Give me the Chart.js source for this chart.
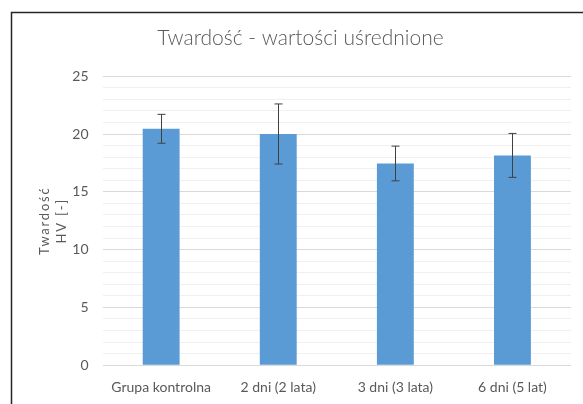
<!DOCTYPE html>
<html>
<head>
<meta charset="utf-8">
<script src="https://cdn.jsdelivr.net/npm/chart.js@4.4.0/dist/chart.umd.min.js"></script>
<style>
    html, body { margin: 0; padding: 0; background: #ffffff; }
    #wrap { width: 583px; height: 404px; position: relative; }
</style>
</head>
<body>
<div id="wrap"><canvas id="hardnessChart" width="583" height="404"></canvas></div>
<script>
// --- Dane ---
const categories = ['Grupa kontrolna', '2 dni (2 lata)', '3 dni (3 lata)', '6 dni (5 lat)'];
const hardnessMeans = [20.45, 20.0, 17.45, 18.15];
const hardnessErrors = [1.25, 2.6, 1.5, 1.9];
const yTickLabels = [0, 5, 10, 15, 20, 25];
const yAxisTitle = ['Twardość', 'HV [-]'];

const textColor = '#595959';

// Ramka wokół wykresu (lewa i górna krawędź widoczne na obrazku)
const frameBorder = {
    id: 'frameBorder',
    afterDraw(chart) {
        const ctx = chart.ctx;
        ctx.save();
        ctx.strokeStyle = '#262626';
        ctx.lineWidth = 1.5;
        ctx.beginPath();
        ctx.moveTo(11.5, 404);
        ctx.lineTo(11.5, 12.5);
        ctx.lineTo(583, 12.5);
        ctx.stroke();
        ctx.restore();
    }
};

// Tytuł osi Y z rozstrzelonymi literami (jak w Excelu)
const yTitle = {
    id: 'yTitle',
    afterDraw(chart) {
        const ctx = chart.ctx;
        const area = chart.chartArea;
        const cy = (area.top + area.bottom) / 2;
        ctx.save();
        ctx.fillStyle = textColor;
        ctx.font = '13px Lato';
        ctx.letterSpacing = '1.8px';
        ctx.textAlign = 'center';
        ctx.textBaseline = 'middle';
        ctx.translate(45, cy);
        ctx.rotate(-Math.PI / 2);
        yAxisTitle.forEach((line, i) => {
            ctx.fillText(line, 0, i * 17);
        });
        ctx.restore();
    }
};

// Słupki błędów rysowane przez skale wykresu
const errorBars = {
    id: 'errorBars',
    afterDatasetsDraw(chart) {
        const ctx = chart.ctx;
        const yScale = chart.scales.y;
        const meta = chart.getDatasetMeta(0);
        ctx.save();
        ctx.strokeStyle = '#404040';
        ctx.lineWidth = 1;
        meta.data.forEach((bar, i) => {
            const x = Math.round(bar.x) + 0.5;
            const top = yScale.getPixelForValue(hardnessMeans[i] + hardnessErrors[i]);
            const bottom = yScale.getPixelForValue(hardnessMeans[i] - hardnessErrors[i]);
            ctx.beginPath();
            ctx.moveTo(x, top);
            ctx.lineTo(x, bottom);
            ctx.moveTo(x - 4, top);
            ctx.lineTo(x + 4, top);
            ctx.moveTo(x - 4, bottom);
            ctx.lineTo(x + 4, bottom);
            ctx.stroke();
        });
        ctx.restore();
    }
};

const ctx = document.getElementById('hardnessChart').getContext('2d');
new Chart(ctx, {
    type: 'bar',
    data: {
        labels: categories,
        datasets: [{
            data: hardnessMeans,
            backgroundColor: '#5B9BD5',
            borderWidth: 0,
            categoryPercentage: 1,
            barPercentage: 0.315,
        }]
    },
    options: {
        responsive: false,
        animation: false,
        layout: { padding: { left: 30, right: 12, top: 0, bottom: 2 } },
        plugins: {
            legend: { display: false },
            tooltip: { enabled: false },
            title: {
                display: true,
                text: 'Twardość - wartości uśrednione',
                color: textColor,
                font: { family: 'Lato', size: 21, weight: '300' },
                padding: { top: 26, bottom: 25 }
            }
        },
        scales: {
            x: {
                grid: { display: false },
                border: { display: false },
                ticks: {
                    color: textColor,
                    font: { family: 'Lato', size: 14 },
                    padding: 6,
                    maxRotation: 0,
                    autoSkip: false
                }
            },
            y: {
                min: 0,
                max: 25,
                afterFit: (scale) => { scale.width = 72.6; },
                afterBuildTicks: (scale) => {
                    // co 1 jednostkę – linie pomocnicze, etykiety tylko dla wartości z yTickLabels
                    const ticks = [];
                    for (let v = 0; v <= 25; v++) ticks.push({ value: v });
                    scale.ticks = ticks;
                },
                border: { display: false },
                grid: {
                    drawTicks: false,
                    color: (c) => yTickLabels.includes(c.tick.value) ? '#d9d9d9' : '#f0f0f0',
                    lineWidth: 1
                },
                ticks: {
                    autoSkip: false,
                    color: textColor,
                    font: { family: 'Lato', size: 14 },
                    padding: 14,
                    callback: (v) => yTickLabels.includes(v) ? String(v) : ''
                }
            }
        }
    },
    plugins: [errorBars, yTitle, frameBorder]
});
</script>
</body>
</html>
